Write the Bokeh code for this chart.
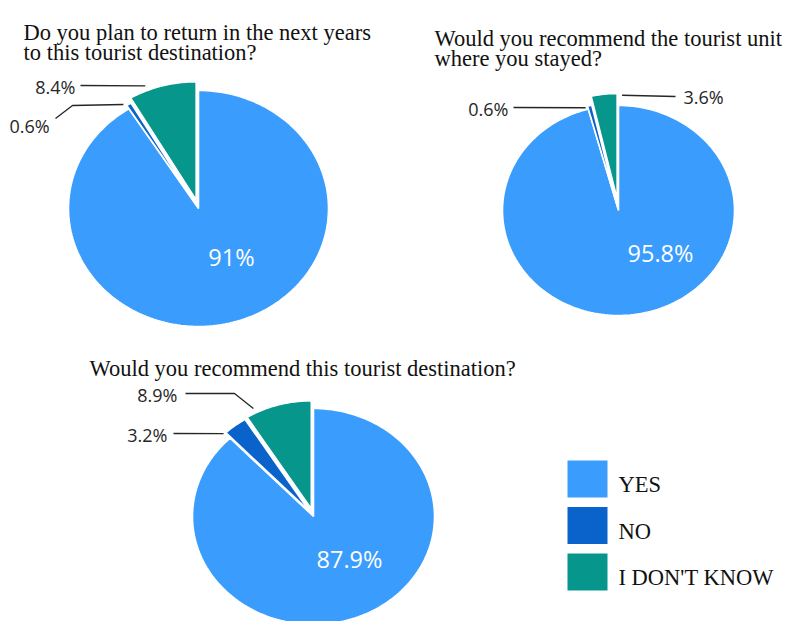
import numpy as np
from bokeh.plotting import figure
from bokeh.models import Range1d
from bokeh.core.properties import value
from bokeh.embed import file_html
from bokeh.resources import INLINE

# ---------------- data ----------------
categories = ["YES", "NO", "I DON'T KNOW"]
q1_title = ["Do you plan to return in the next years", "to this tourist destination?"]
q2_title = ["Would you recommend the tourist unit", "where you stayed?"]
q3_title = ["Would you recommend this tourist destination?"]
q1_values = [91.0, 0.6, 8.4]
q2_values = [95.8, 0.6, 3.6]
q3_values = [87.9, 3.2, 8.9]
q1_labels = ["91%", "0.6%", "8.4%"]
q2_labels = ["95.8%", "0.6%", "3.6%"]
q3_labels = ["87.9%", "3.2%", "8.9%"]

# ---------------- style / layout ----------------
COLORS = ["#3a9cfc", "#0a62cb", "#07968b"]
SERIF = value("Liberation Serif")
SANS = value("Open Sans")
DARK = "#262626"

pies = [
    dict(values=q1_values, labels=q1_labels, title=q1_title, title_xy=(23, 32),
         cx=198, cy=208, rx=130, ry=118, explode=[0, 4, 9], inner_xy=(231, 256),
         outer={1: dict(xy=(9, 125), align="left", path=[(55, 118), (72, 105)], adj=(-5.4, 0.2)),
                2: dict(xy=(75, 86), align="right", path=[(80, 85)], adj=(-17, 0))}),
    dict(values=q2_values, labels=q2_labels, title=q2_title, title_xy=(434, 38),
         cx=618, cy=210, rx=116, ry=105, explode=[0, 3, 12], inner_xy=(660, 252),
         outer={1: dict(xy=(508, 108), align="right", path=[(513, 107)], adj=(-4, 2)),
                2: dict(xy=(683, 96), align="left", path=[(675, 96)], adj=(18, 1))}),
    dict(values=q3_values, labels=q3_labels, title=q3_title, title_xy=(89, 368),
         cx=313, cy=516, rx=121, ry=108, explode=[0, 7, 8], inner_xy=(349, 558),
         outer={1: dict(xy=(167, 434), align="right", path=[(173, 433)], adj=(-11.5, 8)),
                2: dict(xy=(177, 394), align="right", path=[(185, 393), (234, 393)], adj=(-24.5, 3.5))}),
]

W, H = 792, 621
p = figure(width=W, height=H, x_range=Range1d(0, W), y_range=Range1d(H, 0),
           output_backend="svg", toolbar_location=None, min_border=0)
p.axis.visible = False
p.grid.visible = False
p.outline_line_color = None
p.background_fill_color = "white"
p.border_fill_color = "white"

for pie in pies:
    vals = np.array(pie["values"], dtype=float)
    frac = vals / vals.sum()
    ends = np.cumsum(frac) * 2 * np.pi
    starts = ends - frac * 2 * np.pi
    cx, cy, rx, ry = pie["cx"], pie["cy"], pie["rx"], pie["ry"]
    xs, ys = [], []
    rim_mid = []
    for i in range(len(vals)):
        mid = (starts[i] + ends[i]) / 2
        d = pie["explode"][i]
        ox, oy = d * np.sin(mid), -d * np.cos(mid)
        t = np.linspace(starts[i], ends[i], max(4, int(200 * frac[i]) + 4))
        px = cx + ox + rx * np.sin(t)
        py = cy + oy - ry * np.cos(t)
        xs.append([cx + ox] + list(px) + [cx + ox])
        ys.append([cy + oy] + list(py) + [cy + oy])
        rim_mid.append((cx + ox + rx * np.sin(mid), cy + oy - ry * np.cos(mid)))
    p.patches(xs, ys, fill_color=COLORS, line_color="white", line_width=1.6)

    # inner label (largest slice)
    p.text(x=[pie["inner_xy"][0]], y=[pie["inner_xy"][1]], text=[pie["labels"][0]],
           text_font=SANS, text_font_size="23.5px", text_color="white",
           text_align="center", text_baseline="middle")

    # outer labels + leaders
    for i, spec in pie["outer"].items():
        tip = (rim_mid[i][0] + spec["adj"][0], rim_mid[i][1] + spec["adj"][1])
        pts = spec["path"] + [tip]
        p.line([q[0] for q in pts], [q[1] for q in pts], line_color=DARK, line_width=1.3)
        p.text(x=[spec["xy"][0]], y=[spec["xy"][1]], text=[pie["labels"][i]],
               text_font=SANS, text_font_size="18px", text_color=DARK,
               text_align=spec["align"], text_baseline="middle")

    # title
    tx, ty = pie["title_xy"]
    p.text(x=[tx] * len(pie["title"]), y=[ty + 19.5 * k for k in range(len(pie["title"]))],
           text=pie["title"], text_font=SERIF, text_font_size="22.5px", text_color="#111111",
           text_align="left", text_baseline="alphabetic")

# legend
lx0, ly0, lw, lh, lstep = 567, 460, 40, 37, 46.5
n = len(categories)
p.quad(left=[lx0] * n, right=[lx0 + lw] * n,
       top=[ly0 + k * lstep for k in range(n)],
       bottom=[ly0 + lh + k * lstep for k in range(n)],
       fill_color=COLORS, line_color=None)
p.text(x=[lx0 + lw + 11] * n, y=[ly0 + lh / 2 + 5.5 + k * lstep for k in range(n)],
       text=categories, text_font=SERIF, text_font_size="22.5px", text_color="#111111",
       text_align="left", text_baseline="alphabetic")

open("out.html", "w").write(file_html(p, INLINE))
